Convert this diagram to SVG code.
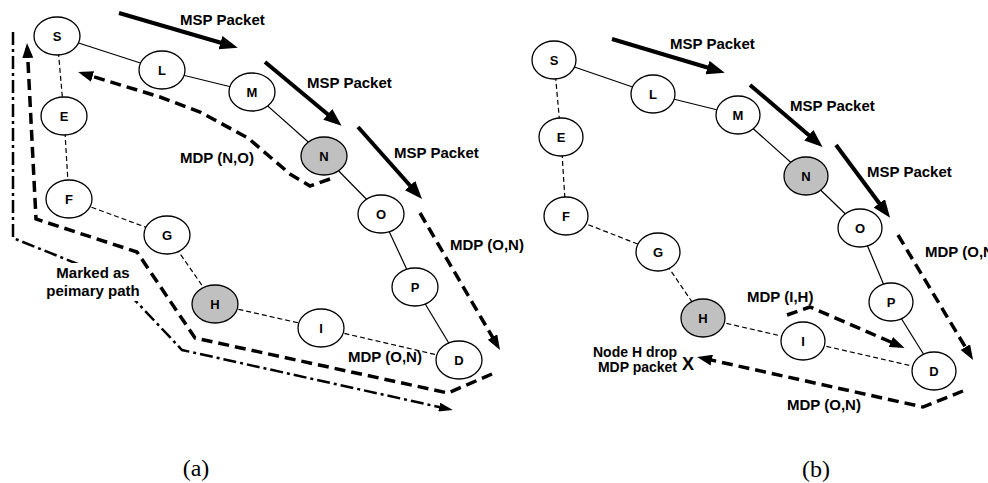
<svg xmlns="http://www.w3.org/2000/svg" width="988" height="483" viewBox="0 0 988 483">
<style>
.bg{fill:#fff}
.nd{fill:#fff;stroke:#000;stroke-width:1.3}
.nd.g{fill:#c0c0c0}
.nl{font-family:"Liberation Sans",Arial,Helvetica,sans-serif;font-weight:bold;font-size:13px;text-anchor:middle;fill:#000}
.lb{font-family:"Liberation Sans",Arial,Helvetica,sans-serif;font-weight:bold;font-size:15px;fill:#000}
.cap{font-family:"Liberation Serif","Times New Roman",serif;font-size:24px;text-anchor:middle;fill:#000}
.es{stroke:#000;stroke-width:1.2;fill:none}
.ed{stroke:#000;stroke-width:1.2;fill:none;stroke-dasharray:5,3}
.msp{stroke:#000;stroke-width:4;fill:none;marker-end:url(#ah1)}
.mdp{stroke:#000;stroke-width:3.5;fill:none;stroke-dasharray:11,6;stroke-linejoin:miter;marker-end:url(#ah2)}
.pp{stroke:#000;stroke-width:2.5;fill:none;stroke-dasharray:13,4,3,4;marker-end:url(#ah3)}
</style>
<defs>
<marker id="ah1" markerUnits="userSpaceOnUse" markerWidth="18" markerHeight="14" refX="12" refY="7" orient="auto"><path d="M0,0 L18,7 L0,14 z" fill="#000"/></marker>
<marker id="ah2" markerUnits="userSpaceOnUse" markerWidth="15" markerHeight="11" refX="10" refY="5.5" orient="auto"><path d="M0,0 L15,5.5 L0,11 z" fill="#000"/></marker>
<marker id="ah3" markerUnits="userSpaceOnUse" markerWidth="14" markerHeight="9" refX="9" refY="4.5" orient="auto"><path d="M0,0 L14,4.5 L0,9 z" fill="#000"/></marker>
</defs>
<rect class="bg" x="0" y="0" width="988" height="483"/>

<g id="connectors">
<!-- left edges -->
<line class="es" x1="57" y1="36" x2="162" y2="70"/>
<line class="es" x1="162" y1="70" x2="252" y2="92"/>
<line class="es" x1="252" y1="92" x2="324" y2="156"/>
<line class="es" x1="324" y1="156" x2="381" y2="214"/>
<line class="es" x1="381" y1="214" x2="415" y2="287"/>
<line class="es" x1="415" y1="287" x2="459" y2="360"/>
<line class="ed" x1="57" y1="36" x2="64" y2="116"/>
<line class="ed" x1="64" y1="116" x2="69" y2="199"/>
<line class="ed" x1="69" y1="199" x2="167" y2="235"/>
<line class="ed" x1="167" y1="235" x2="215" y2="304"/>
<line class="ed" x1="215" y1="304" x2="321" y2="328"/>
<line class="ed" x1="321" y1="328" x2="459" y2="360"/>
<!-- right edges -->
<line class="es" x1="554" y1="60" x2="653" y2="94"/>
<line class="es" x1="653" y1="94" x2="738" y2="115"/>
<line class="es" x1="738" y1="115" x2="806" y2="176"/>
<line class="es" x1="806" y1="176" x2="860" y2="228"/>
<line class="es" x1="860" y1="228" x2="891" y2="302"/>
<line class="es" x1="891" y1="302" x2="934" y2="371"/>
<line class="ed" x1="554" y1="60" x2="561" y2="137"/>
<line class="ed" x1="561" y1="137" x2="566" y2="216"/>
<line class="ed" x1="566" y1="216" x2="658" y2="252"/>
<line class="ed" x1="658" y1="252" x2="703" y2="318"/>
<line class="ed" x1="703" y1="318" x2="803" y2="341"/>
<line class="ed" x1="803" y1="341" x2="934" y2="371"/>

<!-- left packet arrows -->
<line class="msp" x1="119" y1="13" x2="232" y2="46"/>
<line class="msp" x1="265" y1="62" x2="337" y2="122"/>
<line class="msp" x1="358" y1="127" x2="418" y2="194.5"/>
<polyline class="mdp" points="420,213 497.5,345.7"/>
<polyline class="mdp" points="330,179 310,186 290,174 248,138 200,112 160,97 83,73.5"/>
<polyline class="mdp" points="492,374 448,393 195,338 137,252 36,219 27.3,48"/>
<polyline class="pp" points="13,32 13,238 115,279 182,350 448,409"/>

<!-- right packet arrows -->
<line class="msp" x1="612" y1="39" x2="719" y2="71"/>
<line class="msp" x1="750" y1="85" x2="818" y2="143"/>
<line class="msp" x1="836" y1="145" x2="886.5" y2="213"/>
<polyline class="mdp" points="898,235 970.5,355.7"/>
<polyline class="mdp" points="787,315 810,307 900,346"/>
<polyline class="mdp" points="963,391 923,407 702,358"/>
</g>

<!-- left nodes -->
<g id="a-S"><ellipse class="nd" cx="57" cy="36" rx="23" ry="19"/><text class="nl" x="57" y="40.5">S</text></g>
<g id="a-L"><ellipse class="nd" cx="162" cy="70" rx="23" ry="19"/><text class="nl" x="162" y="74.5">L</text></g>
<g id="a-M"><ellipse class="nd" cx="252" cy="92" rx="23" ry="19"/><text class="nl" x="252" y="96.5">M</text></g>
<g id="a-N"><ellipse class="nd g" cx="324" cy="156" rx="23" ry="19"/><text class="nl" x="324" y="160.5">N</text></g>
<g id="a-O"><ellipse class="nd" cx="381" cy="214" rx="23" ry="19"/><text class="nl" x="381" y="218.5">O</text></g>
<g id="a-P"><ellipse class="nd" cx="415" cy="287" rx="23" ry="19"/><text class="nl" x="415" y="291.5">P</text></g>
<g id="a-D"><ellipse class="nd" cx="459" cy="360" rx="23" ry="19"/><text class="nl" x="459" y="364.5">D</text></g>
<g id="a-E"><ellipse class="nd" cx="64" cy="116" rx="23" ry="19"/><text class="nl" x="64" y="120.5">E</text></g>
<g id="a-F"><ellipse class="nd" cx="69" cy="199" rx="23" ry="19"/><text class="nl" x="69" y="203.5">F</text></g>
<g id="a-G"><ellipse class="nd" cx="167" cy="235" rx="23" ry="19"/><text class="nl" x="167" y="239.5">G</text></g>
<g id="a-H"><ellipse class="nd g" cx="215" cy="304" rx="23" ry="19"/><text class="nl" x="215" y="308.5">H</text></g>
<g id="a-I"><ellipse class="nd" cx="321" cy="328" rx="23" ry="19"/><text class="nl" x="321" y="332.5">I</text></g>

<!-- right nodes -->
<g id="b-S"><ellipse class="nd" cx="554" cy="60" rx="22" ry="19"/><text class="nl" x="554" y="64.5">S</text></g>
<g id="b-L"><ellipse class="nd" cx="653" cy="94" rx="22" ry="19"/><text class="nl" x="653" y="98.5">L</text></g>
<g id="b-M"><ellipse class="nd" cx="738" cy="115" rx="22" ry="19"/><text class="nl" x="738" y="119.5">M</text></g>
<g id="b-N"><ellipse class="nd g" cx="806" cy="176" rx="22" ry="19"/><text class="nl" x="806" y="180.5">N</text></g>
<g id="b-O"><ellipse class="nd" cx="860" cy="228" rx="22" ry="19"/><text class="nl" x="860" y="232.5">O</text></g>
<g id="b-P"><ellipse class="nd" cx="891" cy="302" rx="22" ry="19"/><text class="nl" x="891" y="306.5">P</text></g>
<g id="b-D"><ellipse class="nd" cx="934" cy="371" rx="22" ry="19"/><text class="nl" x="934" y="375.5">D</text></g>
<g id="b-E"><ellipse class="nd" cx="561" cy="137" rx="22" ry="19"/><text class="nl" x="561" y="141.5">E</text></g>
<g id="b-F"><ellipse class="nd" cx="566" cy="216" rx="22" ry="19"/><text class="nl" x="566" y="220.5">F</text></g>
<g id="b-G"><ellipse class="nd" cx="658" cy="252" rx="22" ry="19"/><text class="nl" x="658" y="256.5">G</text></g>
<g id="b-H"><ellipse class="nd g" cx="703" cy="318" rx="22" ry="19"/><text class="nl" x="703" y="322.5">H</text></g>
<g id="b-I"><ellipse class="nd" cx="803" cy="341" rx="22" ry="19"/><text class="nl" x="803" y="345.5">I</text></g>

<g id="labels">
<text class="lb" x="180" y="24.5">MSP Packet</text>
<text class="lb" x="307" y="87.5">MSP Packet</text>
<text class="lb" x="394" y="157.5">MSP Packet</text>
<text class="lb" x="180" y="163">MDP (N,O)</text>
<text class="lb" x="450" y="250">MDP (O,N)</text>
<text class="lb" x="348" y="362">MDP (O,N)</text>
<rect class="bg" x="44" y="263" width="98" height="38"/>
<text class="lb" x="93" y="278" text-anchor="middle">Marked as</text>
<text class="lb" x="93" y="296" text-anchor="middle">peimary path</text>

<text class="lb" x="670" y="48.5">MSP Packet</text>
<text class="lb" x="790" y="110.5">MSP Packet</text>
<text class="lb" x="867" y="176.5">MSP Packet</text>
<text class="lb" x="925" y="257">MDP (O,N)</text>
<text class="lb" x="747" y="302">MDP (I,H)</text>
<text class="lb" x="787" y="410">MDP (O,N)</text>
<text class="lb" x="677" y="357" text-anchor="end" style="font-size:14px">Node H drop</text>
<text class="lb" x="677" y="372" text-anchor="end" style="font-size:14px">MDP packet</text>
<text class="lb" x="682" y="369.5" style="font-size:18px">X</text>

<text class="cap" x="196" y="476">(a)</text>
<text class="cap" x="816" y="477">(b)</text>
</g>
</svg>
